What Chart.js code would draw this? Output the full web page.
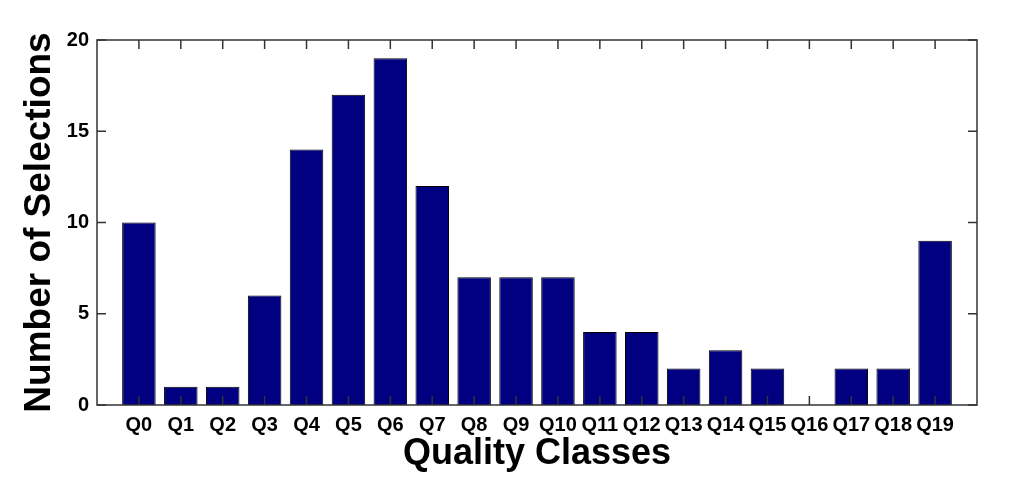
<!DOCTYPE html>
<html>
<head>
<meta charset="utf-8">
<script src="https://cdn.jsdelivr.net/npm/chart.js@4.4.0/dist/chart.umd.min.js"></script>
<style>
    html, body { margin: 0; padding: 0; background: #fff; }
    #wrap { width: 1023px; height: 492px; }
</style>
</head>
<body>
<div id="wrap"><canvas id="chart"></canvas></div>
<script>
// Quality classes and selection counts
const classLabels = ['Q0', 'Q1', 'Q2', 'Q3', 'Q4', 'Q5', 'Q6', 'Q7', 'Q8', 'Q9',
    'Q10', 'Q11', 'Q12', 'Q13', 'Q14', 'Q15', 'Q16', 'Q17', 'Q18', 'Q19'];
const selections = [10, 1, 1, 6, 14, 17, 19, 12, 7, 7, 7, 4, 4, 2, 3, 2, 0, 2, 2, 9];
const yTicks = [0, 5, 10, 15, 20];

const FONT = "'Liberation Sans', Arial, Helvetica, sans-serif";

// inward tick marks on all four sides + box, like matlab
const boxTicks = {
    id: 'boxTicks',
    afterDatasetsDraw(chart) {
        const { ctx, chartArea: a, scales } = chart;
        ctx.save();
        ctx.strokeStyle = '#333';
        ctx.lineWidth = 1.5;
        ctx.beginPath();
        classLabels.forEach((_, i) => {
            const x = scales.x.getPixelForValue(i + 1);
            ctx.moveTo(x, a.top); ctx.lineTo(x, a.top + 9);
            ctx.moveTo(x, a.bottom); ctx.lineTo(x, a.bottom - 9);
        });
        yTicks.forEach(v => {
            const y = scales.y.getPixelForValue(v);
            ctx.moveTo(a.left, y); ctx.lineTo(a.left + 9, y);
            ctx.moveTo(a.right, y); ctx.lineTo(a.right - 9, y);
        });
        ctx.stroke();
        ctx.strokeRect(a.left, a.top, a.right - a.left, a.bottom - a.top);
        ctx.restore();
    }
};

new Chart(document.getElementById('chart'), {
    type: 'bar',
    data: {
        datasets: [{
            data: selections.map((v, i) => ({ x: i + 1, y: v })),
            backgroundColor: '#000080',
            borderColor: '#000000',
            borderWidth: 1,
            barPercentage: 0.8,
            categoryPercentage: 1.0
        }]
    },
    options: {
        responsive: true,
        maintainAspectRatio: false,
        animation: false,
        layout: { padding: { top: 40, right: 46, left: 0, bottom: 0 } },
        plugins: { legend: { display: false }, tooltip: { enabled: false } },
        scales: {
            x: {
                type: 'linear',
                min: 0,
                max: 21,
                offset: false,
                afterBuildTicks: s => { s.ticks = classLabels.map((_, i) => ({ value: i + 1 })); },
                afterFit: s => { s.height = 87; },
                grid: { display: false, drawTicks: false },
                border: { display: false },
                ticks: {
                    autoSkip: false,
                    maxRotation: 0,
                    padding: 8,
                    color: '#000',
                    font: { family: FONT, size: 20, weight: 'bold' },
                    callback: v => classLabels[v - 1]
                },
                title: {
                    display: true,
                    text: 'Quality Classes',
                    color: '#000',
                    font: { family: FONT, size: 36, weight: 'bold' },
                    padding: { top: 0, bottom: 16 }
                }
            },
            y: {
                min: 0,
                max: 20,
                afterBuildTicks: s => { s.ticks = yTicks.map(v => ({ value: v })); },
                afterFit: s => { s.width = 97; },
                grid: { display: false, drawTicks: false },
                border: { display: false },
                ticks: {
                    padding: 8,
                    color: '#000',
                    font: { family: FONT, size: 20, weight: 'bold' }
                },
                title: {
                    display: true,
                    text: 'Number of Selections',
                    color: '#000',
                    font: { family: FONT, size: 37, weight: 'bold' },
                    padding: { top: 18, bottom: 0 }
                }
            }
        }
    },
    plugins: [boxTicks]
});
</script>
</body>
</html>
